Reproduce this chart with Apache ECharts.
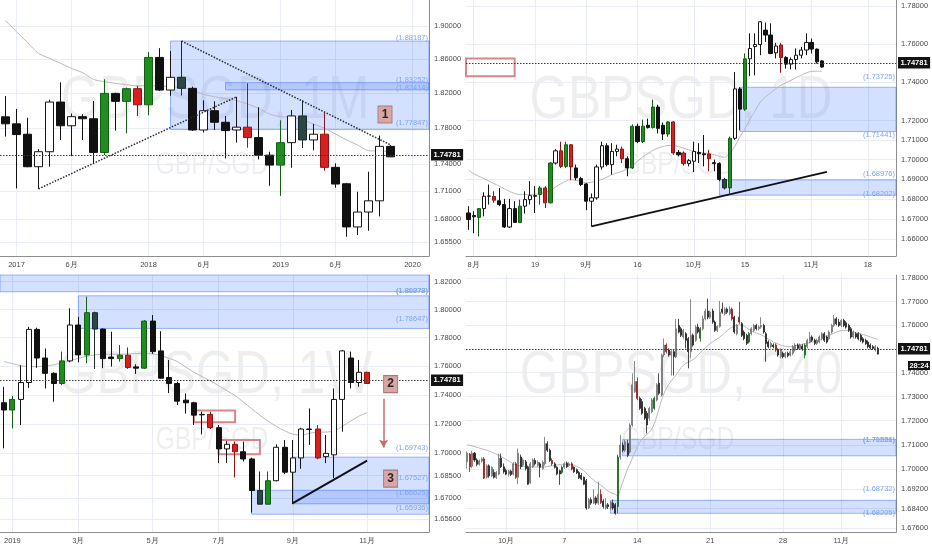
<!DOCTYPE html>
<html>
<head>
<meta charset="utf-8">
<script src="https://cdn.jsdelivr.net/npm/echarts@6/dist/echarts.min.js"></script>
<style>
  html, body { margin: 0; padding: 0; background: #ffffff; }
  #chart { width: 932px; height: 550px; }
</style>
</head>
<body>
<div id="chart"></div>
<script>
const lastPrice = 1.74781;

// ---------- 1M ----------
const m1Months = ['2016-12',
  '2017-01','2017-02','2017-03','2017-04','2017-05','2017-06','2017-07','2017-08','2017-09','2017-10','2017-11','2017-12',
  '2018-01','2018-02','2018-03','2018-04','2018-05','2018-06','2018-07','2018-08','2018-09','2018-10','2018-11','2018-12',
  '2019-01','2019-02','2019-03','2019-04','2019-05','2019-06','2019-07','2019-08','2019-09','2019-10','2019-11','2019-12',
  '2020-01','2020-02'];
const m1TickLabels = { '2017-01': '2017', '2017-06': '6月', '2018-01': '2018', '2018-06': '6月',
  '2019-01': '2019', '2019-06': '6月', '2020-01': '2020' };
const m1PriceTicks = [1.655, 1.68, 1.71, 1.74, 1.78, 1.82, 1.86, 1.90];
const m1Range = [1.6406, 1.9318];
// [open, close, low, high]
const m1Candles = [
  [1.793, 1.785, 1.7705, 1.817], [1.785, 1.7728, 1.7129, 1.802], [1.7732, 1.7368, 1.7362, 1.792],
  [1.7368, 1.7535, 1.7124, 1.7565], [1.7535, 1.810, 1.7368, 1.8128], [1.810, 1.7828, 1.7667, 1.8329],
  [1.7828, 1.7932, 1.7486, 1.7968], [1.7932, 1.7908, 1.7667, 1.796], [1.7908, 1.7527, 1.7405, 1.8112],
  [1.7527, 1.820, 1.7497, 1.8365], [1.820, 1.8108, 1.7773, 1.8208], [1.8108, 1.8255, 1.7743, 1.8267],
  [1.8255, 1.8068, 1.794, 1.829], [1.8068, 1.8623, 1.7948, 1.8688], [1.8623, 1.8239, 1.8228, 1.8733],
  [1.8239, 1.8388, 1.8172, 1.870], [1.8388, 1.8259, 1.8176, 1.88187], [1.8259, 1.778, 1.7769, 1.8279],
  [1.778, 1.800, 1.7751, 1.812], [1.800, 1.7868, 1.778, 1.8108], [1.7868, 1.7773, 1.746, 1.794],
  [1.778, 1.7812, 1.7637, 1.816], [1.7812, 1.7694, 1.758, 1.8318], [1.7694, 1.7497, 1.7449, 1.804],
  [1.7497, 1.7386, 1.7158, 1.7535], [1.7386, 1.7637, 1.7048, 1.789], [1.7637, 1.794, 1.7357, 1.8008],
  [1.794, 1.7667, 1.7577, 1.812], [1.7667, 1.7732, 1.755, 1.785], [1.7732, 1.7361, 1.7324, 1.798],
  [1.7361, 1.7177, 1.7136, 1.7405], [1.718, 1.6713, 1.6609, 1.719], [1.6713, 1.6873, 1.6627, 1.7093],
  [1.6873, 1.6994, 1.6672, 1.7313], [1.6994, 1.7595, 1.6826, 1.7717], [1.7595, 1.74781, 1.7475, 1.761]
];
const m1Ma = [1.9065, 1.8931, 1.8799, 1.8672, 1.8612, 1.8553, 1.8493, 1.8443, 1.8364, 1.8337, 1.8317, 1.8302,
  1.8286, 1.8290, 1.8286, 1.8278, 1.8266, 1.8240, 1.8189, 1.8162, 1.8139, 1.8116, 1.8077, 1.8027,
  1.7962, 1.7932, 1.7924, 1.7894, 1.7848, 1.7799, 1.7735, 1.7667, 1.7611, 1.7547, 1.7543, 1.7536];
const m1Marked = { green: [9, 11, 13, 25], red: [12, 22, 29], slate: [16, 27] };
// [start, top, bottom]
const m1Zones = [['2018-03', 1.88187, 1.77847], ['2018-08', 1.83252, 1.82414]];
const m1Trends = [[['2018-04', 1.88187], ['2019-11', 1.7612]], [['2017-03', 1.7124], ['2018-09', 1.816]]];

// ---------- 1D ----------
const d1Days = ['07-31',
  '08-01','08-02','08-05','08-06','08-07','08-08','08-09','08-12','08-13','08-14','08-15','08-16',
  '08-19','08-20','08-21','08-22','08-23','08-26','08-27','08-28','08-29','08-30',
  '09-02','09-03','09-04','09-05','09-06','09-09','09-10','09-11','09-12','09-13','09-16','09-17',
  '09-18','09-19','09-20','09-23','09-24','09-25','09-26','09-27','09-30',
  '10-01','10-02','10-03','10-04','10-07','10-08','10-09','10-10','10-11','10-14','10-15','10-16',
  '10-17','10-18','10-21','10-22','10-23','10-24','10-25','10-28','10-29','10-30','10-31',
  '11-01','11-04','11-05','11-06','11-07','11-08','11-11','11-12','11-13','11-14','11-15','11-18',
  '11-19','11-20','11-21','11-22','11-25'];
const d1TickLabels = { '08-01': '8月', '08-19': '19', '09-02': '9月', '09-16': '16', '10-01': '10月',
  '10-15': '15', '11-01': '11月', '11-18': '18' };
const d1PriceTicks = [1.66, 1.67, 1.68, 1.69, 1.70, 1.71, 1.72, 1.74, 1.76, 1.78];
const d1Range = [1.6517, 1.7832];
const d1Candles = [
  [1.6731, 1.6698, 1.6647, 1.6765], [1.6718, 1.6712, 1.6630, 1.6740], [1.6709, 1.6753, 1.6614, 1.6756],
  [1.6753, 1.6815, 1.6714, 1.6835], [1.6815, 1.6816, 1.6773, 1.6874], [1.6814, 1.6795, 1.6782, 1.6840],
  [1.6792, 1.6773, 1.6765, 1.6857], [1.6773, 1.6661, 1.6656, 1.6802], [1.6661, 1.6753, 1.6656, 1.6802],
  [1.6753, 1.6684, 1.6681, 1.6790], [1.6684, 1.6765, 1.6681, 1.6798], [1.6765, 1.6798, 1.6728, 1.6840],
  [1.6798, 1.6818, 1.6773, 1.6891], [1.6818, 1.6815, 1.6731, 1.6866], [1.6824, 1.6857, 1.6773, 1.6866],
  [1.6857, 1.6782, 1.6756, 1.6866], [1.6782, 1.6983, 1.6778, 1.6987], [1.6983, 1.7045, 1.6975, 1.7054],
  [1.7045, 1.6966, 1.6958, 1.7092], [1.6966, 1.7076, 1.6958, 1.7092], [1.7076, 1.6963, 1.6896, 1.7079],
  [1.6958, 1.6908, 1.6896, 1.6975], [1.6904, 1.6874, 1.6866, 1.6913], [1.6877, 1.6790, 1.6745, 1.6882],
  [1.6790, 1.6807, 1.6664, 1.6829], [1.6807, 1.6963, 1.6798, 1.6975], [1.6963, 1.7071, 1.6950, 1.7092],
  [1.7071, 1.6975, 1.6966, 1.7084], [1.6975, 1.7042, 1.6924, 1.7084], [1.7042, 1.7054, 1.7017, 1.7076],
  [1.7054, 1.7005, 1.6983, 1.7067], [1.7005, 1.6958, 1.6916, 1.7017], [1.6958, 1.7171, 1.6953, 1.7181],
  [1.7171, 1.7092, 1.7084, 1.7184], [1.7092, 1.7171, 1.7084, 1.7205], [1.7176, 1.7164, 1.7159, 1.7210],
  [1.7164, 1.7270, 1.7159, 1.7308], [1.7270, 1.7160, 1.7134, 1.7282], [1.7176, 1.7131, 1.7100, 1.7190],
  [1.7131, 1.7193, 1.7117, 1.7198], [1.7193, 1.7034, 1.7025, 1.7198], [1.7037, 1.7025, 1.7017, 1.7050],
  [1.7034, 1.6980, 1.6970, 1.7042], [1.6980, 1.6995, 1.6966, 1.7003], [1.6992, 1.7042, 1.6937, 1.7092],
  [1.7037, 1.7030, 1.6983, 1.7084], [1.7030, 1.7025, 1.6966, 1.7126], [1.7029, 1.7005, 1.6941, 1.7050],
  [1.6985, 1.6980, 1.6941, 1.7000], [1.6980, 1.6900, 1.6891, 1.6987], [1.6900, 1.6857, 1.6849, 1.6908],
  [1.6857, 1.7109, 1.6830, 1.7118], [1.7109, 1.7364, 1.7101, 1.7452], [1.7364, 1.7259, 1.7150, 1.7373],
  [1.7259, 1.7521, 1.7250, 1.7549], [1.7521, 1.7575, 1.7430, 1.7655], [1.7585, 1.7596, 1.7435, 1.7655],
  [1.7596, 1.7716, 1.7540, 1.7720], [1.7672, 1.7646, 1.7610, 1.7712], [1.7646, 1.7549, 1.7545, 1.7708],
  [1.7552, 1.7588, 1.7523, 1.7605], [1.7593, 1.7528, 1.7448, 1.7605], [1.7528, 1.7493, 1.7470, 1.7535],
  [1.7493, 1.7517, 1.7465, 1.7528], [1.7517, 1.7540, 1.7465, 1.7575], [1.7540, 1.7567, 1.7523, 1.7584],
  [1.7567, 1.7607, 1.7540, 1.7655], [1.7607, 1.7572, 1.7549, 1.7628], [1.7572, 1.7505, 1.7496, 1.7575],
  [1.7510, 1.74781, 1.7475, 1.7514]
];
const d1Ma = [1.6946, 1.6929, 1.6916, 1.6904, 1.6891, 1.6879, 1.6866, 1.6852, 1.6840, 1.6829,
  1.6824, 1.6824, 1.6824, 1.6825, 1.6829, 1.6835, 1.6845, 1.6862, 1.6877, 1.6891,
  1.6899, 1.6894, 1.6891, 1.6882, 1.6886, 1.6891, 1.6899, 1.6911, 1.6924, 1.6933,
  1.6941, 1.6953, 1.6970, 1.6992, 1.7013, 1.7030, 1.7047, 1.7059, 1.7067, 1.7072,
  1.7072, 1.7067, 1.7059, 1.7050, 1.7042, 1.7037, 1.7034, 1.7030, 1.7025, 1.7017,
  1.7012, 1.7034, 1.7067, 1.7117, 1.7158, 1.7209, 1.7252, 1.7296, 1.7322, 1.7343,
  1.7365, 1.7383, 1.7395, 1.7409, 1.7423, 1.7435, 1.7448, 1.7455, 1.7456, 1.7456];
const d1Marked = { green: [2, 10, 14, 16, 19, 32, 34, 36, 39, 51, 54], red: [5, 15, 18, 20, 30, 40, 42, 47, 61], slate: [50] };
const d1Zones = [['10-14', 1.73725, 1.71441], ['10-08', 1.68976, 1.68202]];
// [from, to, top, bottom]
const d1Boxes = [[null, '08-13', 1.7523, 1.7430]];
const d1Trends = [[['09-03', 1.6664], ['11-06', 1.6938]]];

// ---------- 1W ----------
const w1Weeks = ['2018-12-31',
  '2019-01-07','2019-01-14','2019-01-21','2019-01-28','2019-02-04','2019-02-11','2019-02-18','2019-02-25',
  '2019-03-04','2019-03-11','2019-03-18','2019-03-25','2019-04-01','2019-04-08','2019-04-15','2019-04-22',
  '2019-04-29','2019-05-06','2019-05-13','2019-05-20','2019-05-27','2019-06-03','2019-06-10','2019-06-17',
  '2019-06-24','2019-07-01','2019-07-08','2019-07-15','2019-07-22','2019-07-29','2019-08-05','2019-08-12',
  '2019-08-19','2019-08-26','2019-09-02','2019-09-09','2019-09-16','2019-09-23','2019-09-30','2019-10-07',
  '2019-10-14','2019-10-21','2019-10-28','2019-11-04','2019-11-11','2019-11-18','2019-11-25','2019-12-02',
  '2019-12-09','2019-12-16','2019-12-23'];
const w1TickLabels = { '2019-01-07': '2019', '2019-03-04': '3月', '2019-05-06': '5月', '2019-07-01': '7月',
  '2019-09-02': '9月', '2019-11-04': '11月' };
const w1PriceTicks = [1.656, 1.67, 1.685, 1.70, 1.72, 1.74, 1.76, 1.78, 1.80, 1.82];
const w1Range = [1.6477, 1.8248];
const w1Candles = [
  [1.7345, 1.7295, 1.7034, 1.7455], [1.7295, 1.7368, 1.7170, 1.7393], [1.7368, 1.7485, 1.7192, 1.7605],
  [1.7485, 1.7858, 1.7448, 1.7876], [1.7858, 1.7656, 1.7587, 1.7870], [1.7656, 1.7549, 1.7444, 1.7723],
  [1.7549, 1.7478, 1.7352, 1.7556], [1.7478, 1.7636, 1.7467, 1.7701], [1.7636, 1.7889, 1.7626, 1.8008],
  [1.7889, 1.7678, 1.7626, 1.7947], [1.7678, 1.7977, 1.7620, 1.8092], [1.7977, 1.7860, 1.7580, 1.7984],
  [1.7860, 1.7652, 1.7585, 1.7865], [1.7663, 1.7652, 1.7596, 1.7842], [1.7652, 1.7676, 1.7631, 1.7748],
  [1.7676, 1.7590, 1.7580, 1.7730], [1.7594, 1.7585, 1.7545, 1.7612], [1.7585, 1.7917, 1.7580, 1.7924],
  [1.7917, 1.7701, 1.7685, 1.7960], [1.7706, 1.7515, 1.7511, 1.7845], [1.7520, 1.7478, 1.7412, 1.7643],
  [1.7478, 1.7356, 1.7330, 1.7490], [1.7363, 1.7345, 1.7271, 1.7409], [1.7345, 1.7260, 1.7192, 1.7352],
  [1.7265, 1.7262, 1.7128, 1.7283], [1.7265, 1.7174, 1.7165, 1.7283], [1.7174, 1.7030, 1.6934, 1.7192],
  [1.7030, 1.7061, 1.6934, 1.7083], [1.7061, 1.7011, 1.6838, 1.7079], [1.7011, 1.6962, 1.6945, 1.7079],
  [1.6962, 1.6751, 1.6605, 1.6971], [1.6751, 1.6660, 1.6656, 1.6878], [1.6660, 1.6816, 1.6656, 1.6878],
  [1.6816, 1.7041, 1.6812, 1.7061], [1.7041, 1.6873, 1.6860, 1.7090], [1.6873, 1.6969, 1.6660, 1.7090],
  [1.6969, 1.7165, 1.6896, 1.7174], [1.7165, 1.7162, 1.7057, 1.7306], [1.7165, 1.6969, 1.6960, 1.7192],
  [1.6978, 1.7000, 1.6934, 1.7124], [1.6990, 1.7368, 1.6834, 1.7444], [1.7368, 1.7706, 1.7147, 1.7713],
  [1.7656, 1.7485, 1.7444, 1.7701], [1.7485, 1.7556, 1.7455, 1.7643], [1.7556, 1.74781, 1.7475, 1.7560]
];
const w1Ma = [1.7631, 1.7617, 1.7603, 1.7596, 1.7596, 1.7601, 1.7608, 1.7622, 1.7636, 1.7654, 1.7668, 1.7678,
  1.7682, 1.7682, 1.7682, 1.7685, 1.7687, 1.7690, 1.7685, 1.7673, 1.7654, 1.7631, 1.7594, 1.7557,
  1.7526, 1.7496, 1.7464, 1.7428, 1.7395, 1.7349, 1.7304, 1.7259, 1.7219, 1.7183, 1.7153, 1.7130,
  1.7124, 1.7135, 1.7144, 1.7144, 1.7153, 1.7183, 1.7219, 1.7253, 1.7277];
const w1Marked = { green: [1, 7, 10, 14, 17, 32], red: [15, 25, 28, 38, 44], slate: [11, 31] };
const w1Zones = [[null, 1.8300, 1.81272], ['2019-03-04', 1.80978, 1.78647],
  ['2019-07-29', 1.67527, 1.65936], ['2019-09-02', 1.69743, 1.66625]];
const w1Boxes = [['2019-06-10', '2019-07-15', 1.7292, 1.7212], ['2019-07-01', '2019-08-05', 1.7091, 1.6993]];
const w1Trends = [[['2019-09-02', 1.6667], ['2019-11-04', 1.6951]]];
const w1Arrow = [['2019-11-18', 1.7372], ['2019-11-18', 1.7039]];

// ---------- 240 ----------
const h4Days = ['09-26','09-27','09-30','10-01','10-02','10-03','10-04','10-07','10-08','10-09','10-10',
  '10-11','10-14','10-15','10-16','10-17','10-18','10-21','10-22','10-23','10-24','10-25','10-28',
  '10-29','10-30','10-31','11-01','11-04','11-05','11-06'];
const h4Hours = ['00', '04', '08', '12', '16', '20'];
const h4TickLabels = { '10-01 00': '10月', '10-07 00': '7', '10-14 00': '14', '10-21 00': '21',
  '10-28 00': '28', '11-01 00': '11月' };
const h4PriceTicks = [1.676, 1.684, 1.692, 1.70, 1.71, 1.72, 1.73, 1.74, 1.75, 1.76, 1.77, 1.78];
const h4Range = [1.6745, 1.7814];
const h4Candles = [
  [1.7031,1.7066,1.7003,1.7073],[1.7062,1.7010,1.6989,1.7066],[1.7012,1.7066,1.7005,1.7076],[1.7066,1.7038,1.7030,1.7070],
  [1.7038,1.7020,1.7012,1.7045],[1.7020,1.7034,1.7015,1.7040],[1.7034,1.7042,1.7028,1.7048],[1.7042,1.6964,1.6960,1.7050],
  [1.6967,1.7014,1.6962,1.7020],[1.7014,1.6973,1.6965,1.7020],[1.6973,1.7007,1.6968,1.7012],[1.6987,1.6967,1.6962,1.7000],
  [1.6967,1.6987,1.6960,1.6993],[1.6980,1.7045,1.6975,1.7064],[1.7045,1.7010,1.7005,1.7064],[1.7010,1.6990,1.6982,1.7024],
  [1.6995,1.6980,1.6975,1.7003],[1.6980,1.6992,1.6970,1.6998],[1.6992,1.6978,1.6972,1.6998],[1.6980,1.7022,1.6975,1.7030],
  [1.7022,1.6967,1.6960,1.7030],[1.6967,1.7066,1.6939,1.7085],[1.7050,1.7010,1.7000,1.7060],[1.7017,1.7038,1.7010,1.7045],
  [1.7030,1.7003,1.6995,1.7038],[1.7008,1.6939,1.6936,1.7015],[1.6945,1.7022,1.6940,1.7030],[1.7010,1.7038,1.7005,1.7045],
  [1.7036,1.7022,1.7015,1.7045],[1.7015,1.7029,1.7010,1.7036],[1.7022,1.7008,1.6967,1.7029],[1.7003,1.7029,1.6998,1.7036],
  [1.7022,1.7105,1.7015,1.7133],[1.7105,1.7078,1.7071,1.7115],[1.7078,1.7036,1.7030,1.7085],[1.7036,1.7022,1.7015,1.7045],
  [1.7022,1.7008,1.7003,1.7029],[1.7008,1.6981,1.6975,1.7012],[1.6994,1.6980,1.6936,1.6998],[1.6987,1.7008,1.6980,1.7015],
  [1.7008,1.7022,1.7003,1.7030],[1.7025,1.7010,1.7005,1.7032],[1.7015,1.7022,1.7010,1.7029],[1.7022,1.7001,1.6995,1.7029],
  [1.7008,1.6990,1.6985,1.7012],[1.6998,1.6985,1.6980,1.7003],[1.6987,1.6965,1.6960,1.6992],[1.6975,1.6960,1.6955,1.6985],
  [1.6967,1.6939,1.6935,1.6970],[1.6953,1.6842,1.6835,1.6960],[1.6842,1.6876,1.6838,1.6883],[1.6876,1.6862,1.6855,1.6885],
  [1.6862,1.6883,1.6858,1.6918],[1.6883,1.6862,1.6855,1.6890],[1.6862,1.6897,1.6855,1.6950],[1.6897,1.6865,1.6858,1.6918],
  [1.6870,1.6848,1.6840,1.6878],[1.6842,1.6855,1.6835,1.6883],[1.6855,1.6848,1.6838,1.6862],[1.6842,1.6865,1.6835,1.6870],
  [1.6862,1.6842,1.6835,1.6876],[1.6855,1.6821,1.6815,1.6862],[1.6848,1.7050,1.6821,1.7060],[1.7050,1.7099,1.7040,1.7140],
  [1.7099,1.7078,1.7070,1.7110],[1.7078,1.7113,1.7070,1.7120],[1.7106,1.7057,1.7050,1.7120],[1.7071,1.7182,1.7064,1.7189],
  [1.7182,1.7349,1.7175,1.7397],[1.7321,1.7363,1.7315,1.7449],[1.7363,1.7293,1.7285,1.7380],[1.7293,1.7251,1.7245,1.7300],
  [1.7279,1.7231,1.7225,1.7290],[1.7251,1.7210,1.7203,1.7258],[1.7231,1.7182,1.7147,1.7240],[1.7210,1.7251,1.7200,1.7258],
  [1.7237,1.7286,1.7230,1.7293],[1.7251,1.7293,1.7245,1.7300],[1.7286,1.7349,1.7280,1.7356],[1.7356,1.7314,1.7307,1.7397],
  [1.7307,1.7474,1.7300,1.7480],[1.7474,1.7516,1.7465,1.7544],[1.7516,1.7488,1.7480,1.7523],[1.7495,1.7474,1.7467,1.7502],
  [1.7474,1.7488,1.7388,1.7495],[1.7488,1.7467,1.7388,1.7495],[1.7467,1.7585,1.7460,1.7627],[1.7599,1.7571,1.7565,1.7627],
  [1.7585,1.7557,1.7550,1.7592],[1.7550,1.7578,1.7543,1.7585],[1.7564,1.7536,1.7502,1.7571],[1.7543,1.7488,1.7418,1.7550],
  [1.7488,1.7557,1.7460,1.7710],[1.7557,1.7516,1.7509,1.7565],[1.7536,1.7592,1.7530,1.7600],[1.7592,1.7571,1.7565,1.7606],
  [1.7545,1.7585,1.7530,1.7592],[1.7585,1.7627,1.7578,1.7641],[1.7627,1.7660,1.7620,1.7670],[1.7660,1.7634,1.7625,1.7713],
  [1.7634,1.7655,1.7627,1.7662],[1.7660,1.7613,1.7606,1.7670],[1.7613,1.7578,1.7571,1.7620],[1.7578,1.7595,1.7570,1.7600],
  [1.7595,1.7655,1.7590,1.7703],[1.7668,1.7655,1.7648,1.7696],[1.7648,1.7668,1.7641,1.7675],[1.7668,1.7655,1.7648,1.7675],
  [1.7648,1.7668,1.7641,1.7680],[1.7668,1.7627,1.7620,1.7675],[1.7634,1.7571,1.7564,1.7640],[1.7564,1.7599,1.7557,1.7605],
  [1.7634,1.7613,1.7606,1.7699],[1.7606,1.7557,1.7550,1.7613],[1.7571,1.7543,1.7536,1.7578],[1.7557,1.7523,1.7516,1.7564],
  [1.7529,1.7564,1.7523,1.7571],[1.7564,1.7585,1.7557,1.7592],[1.7578,1.7599,1.7571,1.7606],[1.7599,1.7585,1.7578,1.7606],
  [1.7585,1.7592,1.7578,1.7599],[1.7592,1.7599,1.7585,1.7634],[1.7599,1.7571,1.7564,1.7606],[1.7564,1.7523,1.7446,1.7571],
  [1.7529,1.7509,1.7502,1.7536],[1.7509,1.7523,1.7502,1.7530],[1.7516,1.7509,1.7502,1.7523],[1.7516,1.7495,1.7488,1.7523],
  [1.7495,1.7474,1.7467,1.7502],[1.7467,1.7495,1.7460,1.7502],[1.7481,1.7467,1.7460,1.7488],[1.7467,1.7481,1.7460,1.7488],
  [1.7481,1.7471,1.7464,1.7488],[1.7474,1.7488,1.7467,1.7495],[1.7481,1.7509,1.7474,1.7516],[1.7495,1.7516,1.7488,1.7523],
  [1.7516,1.7502,1.7495,1.7523],[1.7502,1.7516,1.7495,1.7523],[1.7512,1.7499,1.7492,1.7520],[1.7474,1.7516,1.7460,1.7523],
  [1.7509,1.7536,1.7502,1.7543],[1.7529,1.7550,1.7523,1.7571],[1.7550,1.7536,1.7529,1.7557],[1.7536,1.7523,1.7516,1.7543],
  [1.7523,1.7536,1.7516,1.7543],[1.7529,1.7550,1.7523,1.7557],[1.7543,1.7564,1.7536,1.7571],[1.7564,1.7536,1.7529,1.7571],
  [1.7550,1.7529,1.7522,1.7557],[1.7543,1.7571,1.7536,1.7578],[1.7571,1.7599,1.7564,1.7606],[1.7599,1.7627,1.7592,1.7643],
  [1.7627,1.7606,1.7599,1.7634],[1.7613,1.7599,1.7592,1.7627],[1.7599,1.7620,1.7592,1.7627],[1.7620,1.7599,1.7592,1.7627],
  [1.7610,1.7592,1.7585,1.7617],[1.7599,1.7578,1.7571,1.7606],[1.7585,1.7550,1.7543,1.7592],[1.7550,1.7571,1.7543,1.7578],
  [1.7564,1.7550,1.7543,1.7571],[1.7564,1.7543,1.7536,1.7571],[1.7557,1.7536,1.7529,1.7564],[1.7543,1.7529,1.7523,1.7550],
  [1.7536,1.7522,1.7516,1.7543],[1.7529,1.7509,1.7502,1.7536],[1.7516,1.7504,1.7498,1.7523],[1.7509,1.7502,1.7495,1.7516],
  [1.7495,1.7509,1.7488,1.7516],[1.7502,1.74781,1.7476,1.7509]
];
// [bar index, value]
const h4Ma = [[0,1.7101],[5,1.7087],[10,1.7071],[15,1.7046],[20,1.7018],[25,1.7011],[30,1.7008],[35,1.7014],
  [40,1.7021],[45,1.7012],[48,1.6994],[50,1.6973],[53,1.6948],[55,1.6935],[58,1.6911],[60,1.6901],[62,1.6893],
  [63,1.6918],[64,1.6946],[66,1.7001],[68,1.7046],[70,1.7092],[72,1.7124],[74,1.7143],[76,1.7165],[78,1.7217],
  [80,1.7286],[82,1.7335],[84,1.7365],[86,1.7390],[88,1.7421],[90,1.7439],[92,1.7449],[94,1.7463],[96,1.7485],
  [98,1.7504],[100,1.7522],[102,1.7536],[104,1.7550],[106,1.7568],[108,1.7585],[110,1.7596],[112,1.7602],
  [114,1.7596],[116,1.7582],[118,1.7571],[120,1.7563],[122,1.7554],[124,1.7541],[126,1.7529],[128,1.7520],
  [130,1.7513],[132,1.7509],[134,1.7510],[136,1.7516],[138,1.7520],[140,1.7524],[142,1.7529],[144,1.7535],
  [146,1.7543],[148,1.7553],[150,1.7561],[152,1.7571],[154,1.7577],[156,1.7578],[158,1.7574],[160,1.7568],
  [162,1.7563],[164,1.7557],[166,1.7550],[168,1.7543],[169,1.7541]];
const h4Marked = { green: [39, 62, 77, 96, 116, 139], red: [1, 7, 20, 35, 43, 55, 70, 82, 109, 112, 127], slate: [] };
const h4Zones = [[64, 1.71226, 1.70551], [59, 1.68732, 1.68205]];

// ---------- drawing ----------
const FONT = '"Liberation Sans", Arial, sans-serif';
const GRID_COLOR = '#e8edf3';
const AXIS_COLOR = '#8d8d8d';
const LABEL_COLOR = '#4a4a4a';
const ZONE_FILL = 'rgba(41, 98, 255, 0.2)';
const ZONE_EDGE = 'rgba(41, 98, 255, 0.45)';
const ZONE_TEXT = '#7ea6ec';
const BOX_EDGE = '#d98585';
const MARK_COLORS = {
  green: ['#1f8d1f', '#145e14'],
  red: ['#d81f1f', '#8e1414'],
  slate: ['#2c4646', '#1b2c2c']
};
const BASE_CANDLE = { color: '#ffffff', color0: '#111111', borderColor: '#151515', borderColor0: '#111111', borderWidth: 1 };
// the 4h bars are ~2px wide: hollow bodies read as grey there
const SMALL_CANDLE = { color: '#a9a9a9', color0: '#1e1e1e', borderColor: '#6e6e6e', borderColor0: '#1e1e1e', borderWidth: 0.8 };

// the first 2 bars of the 26th are off the left edge; 177 bars fill the pane
const h4Bars = h4Days.flatMap(d => h4Hours.map(h => d + ' ' + h)).slice(2, 179);

function markedStyle(i, marked) {
  for (const key of ['green', 'red', 'slate']) {
    if (marked[key].includes(i)) {
      const [fill, edge] = MARK_COLORS[key];
      return { color: fill, color0: fill, borderColor: edge, borderColor0: edge, borderColorDoji: edge };
    }
  }
  return null;
}

const panels = [
  { box: [0, 0, 429, 256], cats: m1Months, tickLabels: m1TickLabels, priceTicks: m1PriceTicks, range: m1Range,
    candles: m1Candles, ma: m1Ma, marked: m1Marked, zones: m1Zones, boxes: [], trends: m1Trends,
    trendStyle: { color: '#2a2a2a', type: 'dotted', width: 1.5 }, barWidth: '72%', candleStyle: BASE_CANDLE,
    tags: [{ at: ['2019-11', 1.7957], text: '1', offset: [-5.5, 0] }], title: 'GBPSGD, 1M' },
  { box: [466, 0, 430, 256], cats: d1Days, tickLabels: d1TickLabels, priceTicks: d1PriceTicks, range: d1Range,
    candles: d1Candles, ma: d1Ma, marked: d1Marked, zones: d1Zones, boxes: d1Boxes, trends: d1Trends,
    trendStyle: { color: '#111', type: 'solid', width: 2 }, barWidth: '72%', candleStyle: BASE_CANDLE,
    tags: [], title: 'GBPSGD, 1D' },
  { box: [0, 275, 429, 257], cats: w1Weeks, tickLabels: w1TickLabels, priceTicks: w1PriceTicks, range: w1Range,
    candles: w1Candles, ma: w1Ma, marked: w1Marked, zones: w1Zones, boxes: w1Boxes, trends: w1Trends,
    trendStyle: { color: '#111', type: 'solid', width: 2 }, barWidth: '66%', candleStyle: BASE_CANDLE, arrow: w1Arrow,
    tags: [{ at: ['2019-11-18', 1.7474], text: '2', offset: [7, 0] }, { at: ['2019-11-18', 1.6830], text: '3', offset: [7, 0] }],
    title: 'GBPSGD, 1W' },
  { box: [466, 275, 430, 257], cats: h4Bars, tickLabels: h4TickLabels, priceTicks: h4PriceTicks, range: h4Range,
    candles: h4Candles, ma: h4Ma, marked: h4Marked, zones: h4Zones, boxes: [], trends: [],
    trendStyle: {}, barWidth: '62%', candleStyle: SMALL_CANDLE, tags: [], title: 'GBPSGD, 240' }
];

const option = {
  animation: false,
  textStyle: { fontFamily: FONT },
  grid: [], xAxis: [], yAxis: [], series: [], graphic: []
};

panels.forEach((p, n) => {
  const showTick = (i, v) => p.tickLabels[v] !== undefined;
  option.grid.push({ left: p.box[0], top: p.box[1], width: p.box[2], height: p.box[3], outerBoundsMode: 'none' });
  option.xAxis.push({
    type: 'category', gridIndex: n, data: p.cats, boundaryGap: true,
    axisLine: { show: true, lineStyle: { color: AXIS_COLOR } },
    axisTick: { show: false },
    axisLabel: { interval: showTick, formatter: v => p.tickLabels[v] || '', fontSize: 7.5, color: LABEL_COLOR, fontFamily: FONT, margin: 5 },
    splitLine: { show: true, interval: showTick, alignWithLabel: true, lineStyle: { color: GRID_COLOR } }
  });
  option.yAxis.push({
    type: 'log', gridIndex: n, position: 'right', min: p.range[0], max: p.range[1],
    axisLine: { show: true, lineStyle: { color: AXIS_COLOR } },
    axisTick: { show: false, customValues: p.priceTicks },
    axisLabel: { customValues: p.priceTicks, hideOverlap: false, showMinLabel: true, showMaxLabel: true,
      formatter: v => Number(v).toFixed(5), fontSize: 7.5, color: LABEL_COLOR, fontFamily: FONT, margin: 5 },
    splitLine: { show: true, lineStyle: { color: GRID_COLOR } }
  });

  const zoneStyle = { color: ZONE_FILL, borderColor: ZONE_EDGE, borderWidth: 1 };
  const boxStyle = { color: 'rgba(0,0,0,0)', borderColor: BOX_EDGE, borderWidth: 2 };
  const areas = p.zones.map(z => [
    z[0] == null ? { yAxis: z[1], itemStyle: zoneStyle } : { xAxis: z[0], yAxis: z[1], itemStyle: zoneStyle },
    { yAxis: z[2] }
  ]);
  p.boxes.forEach(b => areas.push([
    b[0] == null ? { yAxis: b[2], itemStyle: boxStyle } : { xAxis: b[0], yAxis: b[2], itemStyle: boxStyle },
    { xAxis: b[1], yAxis: b[3] }
  ]));

  const lines = [{
    yAxis: lastPrice,
    lineStyle: { color: '#3c3c3c', type: [1.5, 1.5], width: 1.2 },
    label: { show: true, position: 'end', distance: 2, formatter: lastPrice.toFixed(5), color: '#ffffff',
      backgroundColor: '#131313', padding: [2, 2.5, 1.5, 2.5], fontSize: 7.5, fontWeight: 'bold', fontFamily: FONT }
  }];
  p.zones.forEach(z => [z[1], z[2]].forEach(v => {
    if (v > p.range[0] && v < p.range[1]) {
      lines.push({ yAxis: v, lineStyle: { color: 'rgba(0,0,0,0)' },
        label: { show: true, position: 'insideEndTop', distance: [1, 1], formatter: '(' + v.toFixed(5) + ')',
          color: ZONE_TEXT, fontSize: 7.5, fontFamily: FONT } });
    }
  }));
  p.trends.forEach(t => lines.push([{ coord: t[0], lineStyle: p.trendStyle }, { coord: t[1] }]));
  if (p.arrow) {
    lines.push([{ coord: p.arrow[0], symbol: 'none', lineStyle: { color: '#c96a6a', width: 1.5, type: 'solid' } },
      { coord: p.arrow[1], symbol: 'arrow', symbolSize: [7, 8] }]);
  }

  const tags = p.tags.map(t => ({
    coord: t.at, symbol: 'rect', symbolSize: [14, 17], symbolOffset: t.offset,
    itemStyle: { color: '#d6a7a4', borderColor: '#a87a77', borderWidth: 1 },
    label: { show: true, position: 'inside', formatter: t.text, color: '#2e2424', fontSize: 12, fontWeight: 'bold', fontFamily: FONT }
  }));

  option.series.push({
    type: 'line', xAxisIndex: n, yAxisIndex: n, data: p.ma, symbol: 'none', showSymbol: false, smooth: 0.3,
    lineStyle: { color: '#b9b9b9', width: 1 }, z: 2, silent: true
  });
  option.series.push({
    type: 'candlestick', xAxisIndex: n, yAxisIndex: n, z: 3, barWidth: p.barWidth,
    data: p.candles.map((c, i) => {
      const s = markedStyle(i, p.marked);
      return s ? { value: c, itemStyle: s } : c;
    }),
    itemStyle: p.candleStyle,
    markArea: { silent: true, label: { show: false }, data: areas },
    markLine: { silent: true, symbol: ['none', 'none'], label: { show: false }, data: lines },
    markPoint: { silent: true, data: tags }
  });

  const cx = p.box[0];
  const cy = p.box[1];
  option.graphic.push(
    { type: 'text', x: cx + 215, y: cy + 100.5, scaleX: 0.8, z: 0, silent: true,
      style: { text: p.title, fontSize: 62, fontFamily: FONT, fill: 'rgba(0,0,0,0.065)', align: 'center', verticalAlign: 'middle' } },
    { type: 'text', x: cx + 212, y: cy + 165.5, scaleX: 0.8, z: 0, silent: true,
      style: { text: 'GBP/SGD', fontSize: 31, fontFamily: FONT, fill: 'rgba(0,0,0,0.065)', align: 'center', verticalAlign: 'middle' } }
  );
});

// bar countdown under the 240 price tag
option.graphic.push(
  { type: 'rect', shape: { x: 908, y: 361, width: 22, height: 9 }, style: { fill: '#131313' }, z: 10 },
  { type: 'text', x: 919, y: 365.8, z: 11,
    style: { text: '28:24', fontSize: 7.5, fontWeight: 'bold', fontFamily: FONT, fill: '#ffffff', align: 'center', verticalAlign: 'middle' } }
);

const chart = echarts.init(document.getElementById('chart'));
chart.setOption(option);
</script>
</body>
</html>
